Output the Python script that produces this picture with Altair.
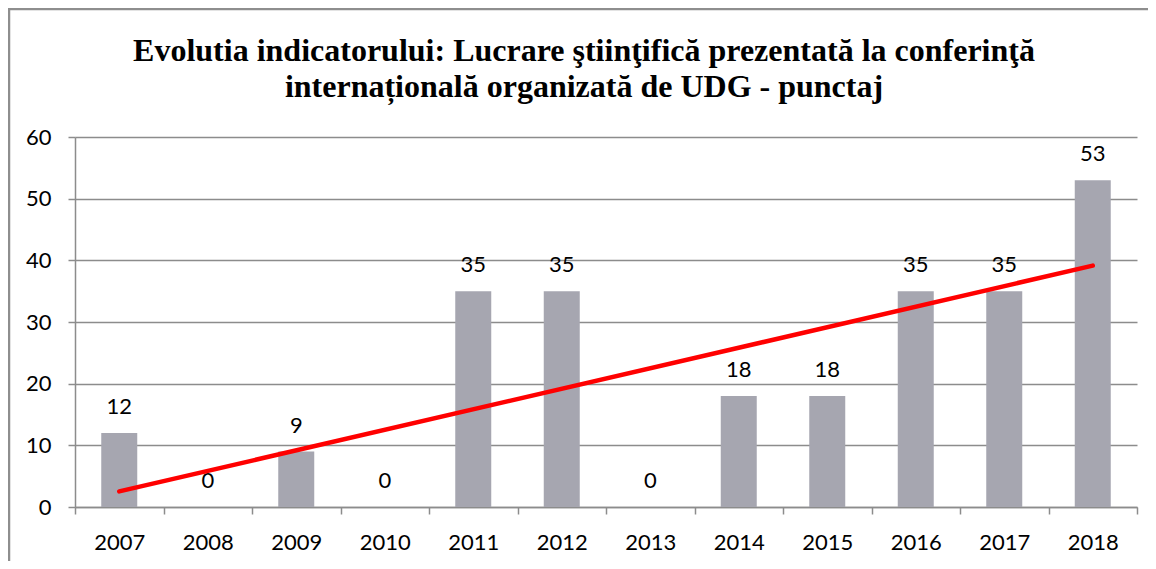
import altair as alt
import pandas as pd

years = [2007, 2008, 2009, 2010, 2011, 2012, 2013, 2014, 2015, 2016, 2017, 2018]
values = [12, 0, 9, 0, 35, 35, 0, 18, 18, 35, 35, 53]
title_lines = [
    "Evolutia indicatorului: Lucrare ştiinţifică prezentată la conferinţă",
    "internațională organizată de UDG - punctaj",
]

df = pd.DataFrame({"year": years, "value": values})

LABEL_FONT = "Lato"
GRID = "#8C8C8C"

x_enc = alt.X(
    "year:O",
    scale=alt.Scale(paddingInner=0, paddingOuter=0),
    axis=alt.Axis(
        title=None, labelAngle=0, labelFont=LABEL_FONT, labelFontSize=22,
        labelColor="black", tickBand="extent", tickSize=7, tickColor=GRID,
        domainColor=GRID, domainWidth=1.5, tickWidth=1.5, labelPadding=18,
        grid=False,
    ),
)
y_enc = alt.Y(
    "value:Q",
    scale=alt.Scale(domain=[0, 60], nice=False),
    axis=alt.Axis(
        title=None, values=[0, 10, 20, 30, 40, 50, 60], labelFont=LABEL_FONT,
        labelFontSize=22, labelColor="black", tickSize=7, tickColor=GRID,
        tickWidth=1.5, domainColor=GRID, domainWidth=1.5, gridColor=GRID,
        gridWidth=1.5, labelPadding=17, grid=True,
    ),
)

base = alt.Chart(df)

bars = base.mark_bar(color="#A6A6B0", size=36).encode(x=x_enc, y=y_enc)

labels = base.mark_text(
    font=LABEL_FONT, fontSize=22, color="black", baseline="middle", dy=-26
).encode(x=alt.X("year:O"), y=alt.Y("value:Q"), text=alt.Text("value:Q"))

trend = base.transform_regression("year", "value").mark_line(
    color="#FF0000", strokeWidth=4.5, strokeCap="round"
).encode(x=alt.X("year:O"), y=alt.Y("value:Q"))

one = alt.Data(values=[{"k": 1}])
border_top = alt.Chart(one).mark_rule(color="#8E8E8E", strokeWidth=2.5).encode(
    x=alt.value(-67), x2=alt.value(1075), y=alt.value(-128)
)
border_left = alt.Chart(one).mark_rule(color="#8E8E8E", strokeWidth=2.5).encode(
    x=alt.value(-66), y=alt.value(-129), y2=alt.value(440)
)

title_font = dict(font="Liberation Serif", fontSize=32, fontWeight="bold",
                  color="black", align="center", baseline="alphabetic")
title1 = alt.Chart(one).mark_text(text=title_lines[0], **title_font).encode(
    x=alt.value(509), y=alt.value(-76)
)
title2 = alt.Chart(one).mark_text(text=title_lines[1], **title_font).encode(
    x=alt.value(509), y=alt.value(-40)
)

chart = alt.layer(bars, labels, trend, border_top, border_left, title1, title2).properties(
    width=1062,
    height=370,
    autosize=alt.AutoSizeParams(type="none"),
    padding={"left": 67, "top": 129, "right": 11, "bottom": 54},
).configure_view(stroke=None)

chart.save("out.html", embed_options={"renderer": "svg", "actions": False})
